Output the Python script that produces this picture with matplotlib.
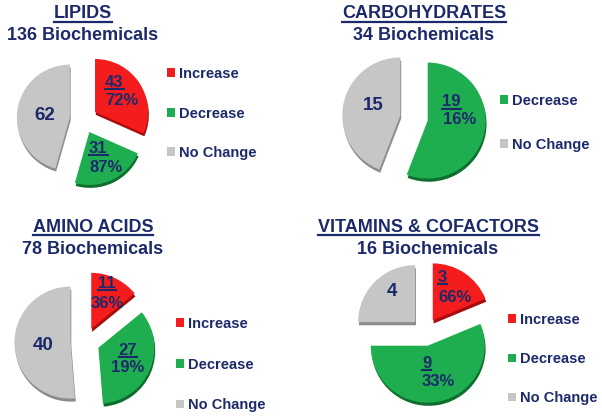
import matplotlib
matplotlib.use("Agg")
import matplotlib.pyplot as plt
from matplotlib.lines import Line2D

plt.rcParams['font.family'] = ['Liberation Sans', 'DejaVu Sans']

# ---------------- data ----------------
categories = ["Increase", "Decrease", "No Change"]
panel_titles = ["LIPIDS", "CARBOHYDRATES", "AMINO ACIDS", "VITAMINS & COFACTORS"]
totals = [136, 34, 78, 16]
lipids = [43, 31, 62]
carbohydrates = [0, 19, 15]
amino_acids = [11, 27, 40]
vitamins = [3, 9, 4]
pct_lipids = ["72%", "87%", None]
pct_carbohydrates = [None, "16%", None]
pct_amino_acids = ["36%", "19%", None]
pct_vitamins = ["66%", "33%", None]

counts = [lipids, carbohydrates, amino_acids, vitamins]
pcts = [pct_lipids, pct_carbohydrates, pct_amino_acids, pct_vitamins]

# ---------------- style / layout ----------------
W, H = 602, 419
NAVY = "#1c2a6b"
colors = ["#f41c1c", "#1fae4f", "#c6c6c6"]
shade = ["#a80c0c", "#0e6e2e", "#8c8c8c"]

# pie centre (px), radius (px), explode
pie_geo = [((83.5, 119.5), 53, 0.26), ((414, 118), 58, 0.24),
           ((85, 342), 56, 0.26), ((425, 332), 57, 0.245)]
title_xy = [(83, 14, 35), (424, 14, 35), (93, 227, 249), (428, 227, 249)]
# legend: anchor (px) of top-left, labelspacing, handletextpad
legend_xy = [(167, 67, 1.75), (500, 94, 2.05), (176, 317, 1.82), (508, 313, 1.72)]
# label positions (px): (x, y, ha) for number and for percentage
label_xy = [
    [((105, 82, "left"), (105, 100, "left")), ((89, 148, "left"), (89, 167, "left")), ((45, 115, "center"), None)],
    [None, ((442, 102, "left"), (443, 120, "left")), ((373, 106, "center"), None)],
    [((107, 283, "center"), (107, 303, "center")), ((128, 350, "center"), (128, 367, "center")), ((43, 345, "center"), None)],
    [((438, 277, "left"), (438, 297, "left")), ((422, 363, "left"), (422, 382, "left")), ((392, 292, "center"), None)],
]
L = 1.6

fig = plt.figure(figsize=(W / 100, H / 100), dpi=100)
fig.patch.set_facecolor("white")

def fx(px):
    return px / W

def fy(py):
    return 1 - py / H

underlines = []

for i in range(4):
    (cx, cy), R, ex = pie_geo[i]
    size = 2 * L * R
    ax = fig.add_axes([fx(cx - L * R), fy(cy + L * R), size / W, size / H])
    ax.axis("off")

    vals = [v for v in counts[i] if v > 0]
    idx = [k for k, v in enumerate(counts[i]) if v > 0]
    cols = [colors[k] for k in idx]
    scols = [shade[k] for k in idx]
    expl = [ex] * len(vals)
    # shadow (thickness)
    ax.pie(vals, colors=scols, startangle=90, counterclock=False, explode=expl,
           radius=1.0, center=(0.015, -0.055), wedgeprops=dict(linewidth=0))
    wedges, _ = ax.pie(vals, colors=cols, startangle=90, counterclock=False,
                       explode=expl, radius=1.0, center=(0, 0),
                       wedgeprops=dict(linewidth=0))
    ax.set_xlim(-L, L)
    ax.set_ylim(-L, L)
    ax.set_aspect("equal")

    # slice labels
    for k in idx:
        num_pos, pct_pos = label_xy[i][k]
        px, py, ha = num_pos
        dx, dy = (px - cx) / R, -(py - cy) / R
        if pcts[i][k] is None:
            ax.text(dx, dy, str(counts[i][k]), ha=ha, va="center",
                    fontsize=13.5, fontweight="bold", color=NAVY)
        else:
            t = ax.text(dx, dy, str(counts[i][k]), ha=ha, va="center",
                        fontsize=12, fontweight="bold", color=NAVY)
            underlines.append((t, 1.8, 1.5))
            px, py, ha = pct_pos
            dx, dy = (px - cx) / R, -(py - cy) / R
            ax.text(dx, dy, pcts[i][k], ha=ha, va="center",
                    fontsize=12, fontweight="bold", color=NAVY)

    # titles
    tx, ty1, ty2 = title_xy[i]
    t = fig.text(fx(tx), fy(ty1), panel_titles[i], ha="center", va="center",
                 fontsize=13, fontweight="bold", color=NAVY)
    underlines.append((t, 1.5, 1.6))
    fig.text(fx(tx), fy(ty2), f"{totals[i]} Biochemicals", ha="center", va="center",
             fontsize=13, fontweight="bold", color=NAVY)

    # legend
    lx, ly, lsp = legend_xy[i]
    leg = fig.legend(wedges, [categories[k] for k in idx], loc="upper left",
                     bbox_to_anchor=(fx(lx), fy(ly)), bbox_transform=fig.transFigure,
                     frameon=False, handlelength=0.55, handleheight=0.55,
                     handletextpad=0.3, labelspacing=lsp, borderpad=0,
                     borderaxespad=0, prop=dict(size=10.5, weight="bold"))
    for txt in leg.get_texts():
        txt.set_color(NAVY)

fig.canvas.draw()
renderer = fig.canvas.get_renderer()
inv = fig.transFigure.inverted()
for t, gap, lw in underlines:
    bb = t.get_window_extent(renderer)
    y = bb.y0 - gap + 2
    (x0, y0), (x1, _) = inv.transform([(bb.x0, y), (bb.x1, y)])
    fig.add_artist(Line2D([x0, x1], [y0, y0], transform=fig.transFigure,
                          color=NAVY, linewidth=lw))

fig.savefig("out.png", dpi=100, facecolor="white")
